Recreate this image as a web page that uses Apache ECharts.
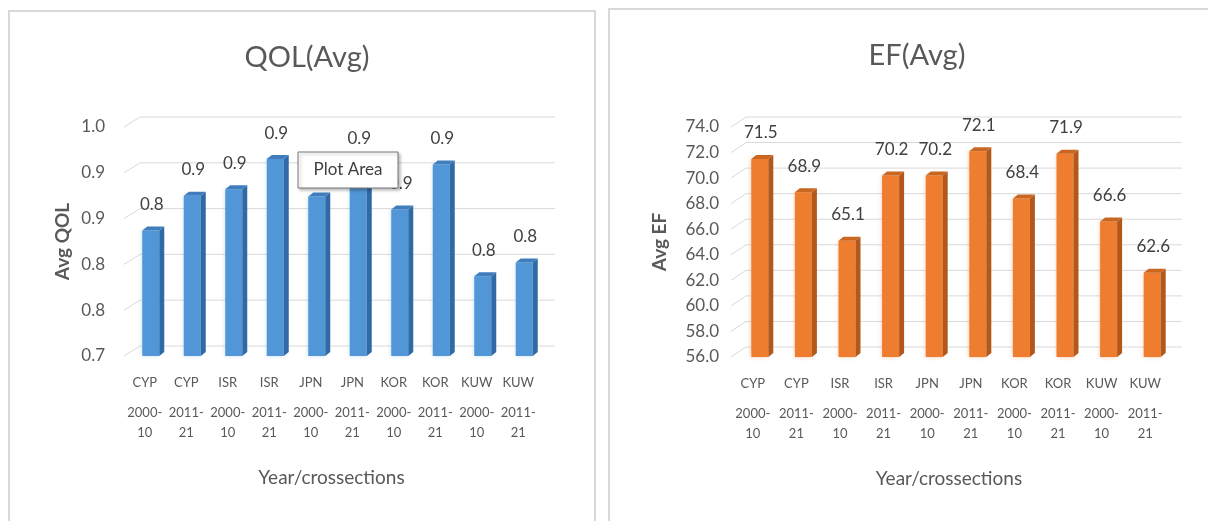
<!DOCTYPE html>
<html>
<head>
<meta charset="utf-8">
<title>QOL and EF averages</title>
<script src="https://cdn.jsdelivr.net/npm/echarts@6/dist/echarts.min.js"></script>
<style>
  html, body { margin: 0; padding: 0; background: #ffffff; }
  #chart { width: 1208px; height: 521px; }
</style>
</head>
<body>
<div id="chart"></div>
<script>
// Cross-sections: country code and period
const countries = ['CYP', 'CYP', 'ISR', 'ISR', 'JPN', 'JPN', 'KOR', 'KOR', 'KUW', 'KUW'];
const periods = ['2000-\n10', '2011-\n21', '2000-\n10', '2011-\n21', '2000-\n10', '2011-\n21', '2000-\n10', '2011-\n21', '2000-\n10', '2011-\n21'];

// Average quality of life per cross-section
const qolValues = [0.837, 0.875, 0.882, 0.915, 0.874, 0.909, 0.860, 0.909, 0.787, 0.802];
// Average EF per cross-section
const efValues = [71.5, 68.9, 65.1, 70.2, 70.2, 72.1, 68.4, 71.9, 66.6, 62.6];

// Value-axis ticks
const qolTicks = [0.70, 0.75, 0.80, 0.85, 0.90, 0.95];
const qolTickLabels = ['0.7', '0.8', '0.8', '0.9', '0.9', '1.0'];
const efTicks = [56, 58, 60, 62, 64, 66, 68, 70, 72, 74];

const categories = countries.map((c, i) => c + '|' + i);

const FONT = 'Lato, "Open Sans", sans-serif';
const GREY = '#595959';

// Column with a shallow 3D look: front face, right side and top face
function makeBar3D(colors, yMin, shift, fmt) {
  return function (params, api) {
    const idx = api.value(0);
    const v = api.value(1);
    const top = api.coord([idx, v]);
    const base = api.coord([idx, yMin]);
    const w = 17, dx = 5, dy = 4;
    const cx = top[0] + shift;
    const x0 = cx - w / 2, x1 = cx + w / 2;
    const yt = top[1], yb = base[1];
    return {
      type: 'group',
      children: [
        {
          type: 'rect',
          shape: { x: x0, y: yt, width: w, height: yb - yt },
          style: { fill: colors.front, shadowBlur: 4, shadowColor: colors.glow }
        },
        {
          type: 'polygon',
          shape: { points: [[x1, yt], [x1 + dx, yt - dy], [x1 + dx, yb - dy], [x1, yb]] },
          style: { fill: colors.side }
        },
        {
          type: 'polygon',
          shape: { points: [[x0, yt], [x0 + dx, yt - dy], [x1 + dx, yt - dy], [x1, yt]] },
          style: { fill: colors.top }
        },
        {
          type: 'text',
          x: cx + 1,
          y: yt - 26,
          style: {
            text: fmt(v),
            fill: '#404040',
            font: '17px ' + FONT,
            textAlign: 'center',
            textVerticalAlign: 'middle'
          }
        }
      ]
    };
  };
}

// Gridlines on the back wall, joined to the axis by the side-wall diagonals
function makeWallGrid(dx, dy) {
  return function (params, api) {
    const cs = params.coordSys;
    const y = api.coord([0, api.value(1)])[1];
    const style = { stroke: '#d9d9d9', lineWidth: 1 };
    return {
      type: 'group',
      children: [
        { type: 'line', shape: { x1: cs.x, y1: y, x2: cs.x + dx, y2: y - dy }, style: style },
        { type: 'line', shape: { x1: cs.x + dx, y1: y - dy, x2: cs.x + cs.width + dx, y2: y - dy }, style: style }
      ]
    };
  };
}

function categoryAxis(gridIndex) {
  return {
    type: 'category',
    gridIndex: gridIndex,
    data: categories,
    axisLine: { show: false },
    axisTick: { show: false },
    axisLabel: {
      interval: 0,
      margin: 7,
      formatter: function (val) {
        const i = +val.split('|')[1];
        const p = periods[i].split('\n');
        return '{c|' + countries[i] + '}\n{p|' + p[0] + '}\n{p|' + p[1] + '}';
      },
      rich: {
        c: { fontFamily: FONT, fontSize: 13, color: GREY, lineHeight: 40 },
        p: { fontFamily: FONT, fontSize: 13, color: GREY, lineHeight: 20 }
      }
    },
    name: 'Year/crossections',
    nameLocation: 'middle',
    nameGap: 112,
    nameTextStyle: { fontFamily: FONT, fontSize: 19, color: GREY }
  };
}

const chart = echarts.init(document.getElementById('chart'), null, { renderer: 'canvas' });

chart.setOption({
  backgroundColor: '#ffffff',
  animation: false,
  title: [
    { text: 'QOL(Avg)', left: 302, top: 38, textAlign: 'center',
      textStyle: { fontFamily: FONT, fontSize: 29, fontWeight: 'normal', color: GREY } },
    { text: 'EF(Avg)', left: 912, top: 36, textAlign: 'center',
      textStyle: { fontFamily: FONT, fontSize: 29, fontWeight: 'normal', color: GREY } }
  ],
  graphic: [
    { type: 'rect', z: -10, shape: { x: 9, y: 11, width: 586, height: 530 },
      style: { fill: '#ffffff', stroke: '#d9d9d9', lineWidth: 2 } },
    { type: 'rect', z: -10, shape: { x: 609, y: 9, width: 620, height: 530 },
      style: { fill: '#ffffff', stroke: '#d9d9d9', lineWidth: 2 } },
    {
      type: 'group', zlevel: 1, z: 100, x: 298, y: 152,
      children: [
        { type: 'rect', zlevel: 1, z: 100, shape: { x: 0, y: 0, width: 100, height: 36 },
          style: { fill: '#ffffff', stroke: '#767676', lineWidth: 1,
                   shadowBlur: 3, shadowOffsetX: 2, shadowOffsetY: 2, shadowColor: 'rgba(0,0,0,0.25)' } },
        { type: 'text', zlevel: 1, z: 101, x: 50, y: 18,
          style: { text: 'Plot Area', font: '17px ' + FONT, fill: '#404040',
                   textAlign: 'center', textVerticalAlign: 'middle' } }
      ]
    }
  ],
  grid: [
    { left: 124, right: 669, top: 127, bottom: 165 },
    { left: 731, right: 41, top: 127, bottom: 164 }
  ],
  xAxis: [categoryAxis(0), categoryAxis(1)],
  yAxis: [
    {
      type: 'value', gridIndex: 0,
      min: 0.70, max: 0.95, interval: 0.05,
      splitLine: { show: false }, axisLine: { show: false }, axisTick: { show: false },
      axisLabel: {
        margin: 19, fontFamily: FONT, fontSize: 17, color: GREY,
        formatter: function (v, i) { return qolTickLabels[i]; }
      },
      name: 'Avg QOL', nameLocation: 'middle', nameGap: 52, nameRotate: 90,
      nameTextStyle: { fontFamily: FONT, fontSize: 19, fontWeight: 'bold', color: GREY }
    },
    {
      type: 'value', gridIndex: 1,
      min: 56, max: 74, interval: 2,
      splitLine: { show: false }, axisLine: { show: false }, axisTick: { show: false },
      axisLabel: {
        margin: 12, fontFamily: FONT, fontSize: 17, color: GREY,
        formatter: function (v) { return v.toFixed(1); }
      },
      name: 'Avg EF', nameLocation: 'middle', nameGap: 62, nameRotate: 90,
      nameTextStyle: { fontFamily: FONT, fontSize: 19, fontWeight: 'bold', color: GREY }
    }
  ],
  series: [
    {
      type: 'custom', xAxisIndex: 0, yAxisIndex: 0, z: 1, silent: true,
      renderItem: makeWallGrid(16, 10),
      data: qolTicks.map(t => [0, t])
    },
    {
      type: 'custom', xAxisIndex: 1, yAxisIndex: 1, z: 1, silent: true,
      renderItem: makeWallGrid(15, 10),
      data: efTicks.map(t => [0, t])
    },
    {
      type: 'custom', xAxisIndex: 0, yAxisIndex: 0, z: 5,
      renderItem: makeBar3D({ front: '#5196d6', side: '#2f6aa6', top: '#3f7dbd', glow: 'rgba(91,155,213,0.35)' },
        0.70, 6, v => v.toFixed(1)),
      data: qolValues.map((v, i) => [i, v])
    },
    {
      type: 'custom', xAxisIndex: 1, yAxisIndex: 1, z: 5,
      renderItem: makeBar3D({ front: '#ee7d2f', side: '#b2581b', top: '#c96620', glow: 'rgba(237,125,49,0.45)' },
        56, 7, v => v.toFixed(1)),
      data: efValues.map((v, i) => [i, v])
    }
  ]
});
</script>
</body>
</html>
